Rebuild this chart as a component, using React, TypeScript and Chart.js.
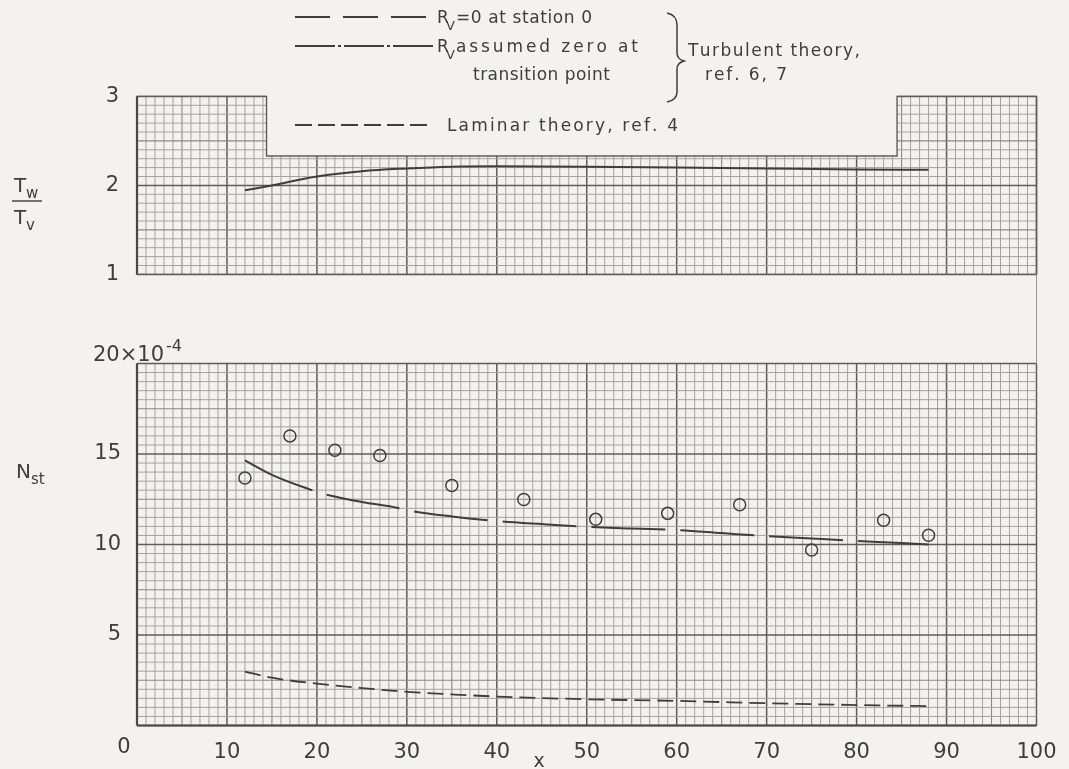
import React, { useEffect, useRef } from 'react';
import { Chart, registerables } from 'chart.js';
Chart.register(...registerables);

// ---- data ----
const xTickValues = [0, 10, 20, 30, 40, 50, 60, 70, 80, 90, 100];
const ratioTickValues = [1, 2, 3];
const stantonTickValues = [0, 5, 10, 15, 20];

// upper panel: Tw/Tv along x
const ratioX = [12, 15, 20, 25, 30, 35, 40, 50, 60, 70, 80, 88];
const ratioY = [1.945, 2.0, 2.1, 2.16, 2.19, 2.21, 2.215, 2.21, 2.2, 2.19, 2.18, 2.175];

// lower panel: measured Stanton numbers (x10^-4)
const expX = [12, 17, 22, 27, 35, 43, 51, 59, 67, 75, 83, 88];
const expY = [13.67, 16.0, 15.21, 14.92, 13.26, 12.49, 11.39, 11.72, 12.2, 9.7, 11.34, 10.51];

// turbulent theory, ref. 6, 7
const turbX = [12, 15, 19, 21, 25, 29, 30, 35, 40, 45, 50, 55, 60, 65, 70, 75, 80, 85, 88];
const turbY = [14.65, 13.85, 13.08, 12.76, 12.35, 12.02, 11.9, 11.55, 11.3, 11.13, 10.98, 10.88, 10.8, 10.63, 10.46, 10.33, 10.2, 10.08, 10.0];

// laminar theory, ref. 4
const lamX = [12, 15, 20, 25, 30, 35, 40, 50, 60, 70, 80, 88];
const lamY = [2.98, 2.64, 2.31, 2.07, 1.86, 1.72, 1.6, 1.45, 1.36, 1.23, 1.13, 1.07];

// graph-paper outline of the upper panel (cut paper)
const paperLeftCut = 14.4;
const paperRightCut = 84.5;
const paperMidTop = 2.33;

const INK = '#3e3e3e';
const BG = '#f4f2ee';
const FONT = '"DejaVu Sans"';
const MINOR = '#a5a29f';
const MEDIUM = '#8a8784';
const MAJOR = '#5e5c5a';

const pts = (xs: number[], ys: number[]) => xs.map((x, i) => ({ x, y: ys[i] }));

function gridStyle(ctx: CanvasRenderingContext2D, i: number) {
  if (i % 10 === 0) { ctx.strokeStyle = MAJOR; ctx.lineWidth = 1.5; }
  else if (i % 5 === 0) { ctx.strokeStyle = MEDIUM; ctx.lineWidth = 1.1; }
  else { ctx.strokeStyle = MINOR; ctx.lineWidth = 1; }
}
function seg(ctx: CanvasRenderingContext2D, x1: number, y1: number, x2: number, y2: number) {
  ctx.beginPath(); ctx.moveTo(x1, y1); ctx.lineTo(x2, y2); ctx.stroke();
}
function text(ctx: CanvasRenderingContext2D, s: string, x: number, y: number, size: number, align: CanvasTextAlign = 'left') {
  ctx.font = `${size}px ${FONT}`;
  ctx.fillStyle = INK;
  ctx.textAlign = align;
  ctx.textBaseline = 'alphabetic';
  ctx.fillText(s, x, y);
}
// lettering spread between two x positions (wide stencil lettering)
function spread(ctx: CanvasRenderingContext2D, s: string, x0: number, x1: number, y: number, size: number) {
  ctx.font = `${size}px ${FONT}`;
  ctx.fillStyle = INK;
  ctx.textAlign = 'left';
  ctx.textBaseline = 'alphabetic';
  const chars = Array.from(s);
  const widths = chars.map((c) => ctx.measureText(c).width);
  const natural = widths.reduce((a, b) => a + b, 0);
  const extra = chars.length > 1 ? Math.max(0, (x1 - x0 - natural) / (chars.length - 1)) : 0;
  let x = x0;
  chars.forEach((c, i) => { ctx.fillText(c, x, y); x += widths[i] + extra; });
}

const topGridPlugin = {
  id: 'topGrid',
  beforeDatasetsDraw(chart: any) {
    const { ctx, scales: { x, y } } = chart;
    const X = (v: number) => x.getPixelForValue(v);
    const Y = (v: number) => y.getPixelForValue(v);
    ctx.save();
    for (let i = 0; i <= 100; i++) {
      const top = (i <= paperLeftCut || i >= paperRightCut) ? 3 : paperMidTop;
      gridStyle(ctx, i);
      seg(ctx, X(i), Y(1), X(i), Y(top));
    }
    for (let j = 0; j <= 20; j++) {
      const v = 1 + j * 0.1;
      gridStyle(ctx, j);
      if (v <= paperMidTop + 1e-6) seg(ctx, X(0), Y(v), X(100), Y(v));
      else {
        seg(ctx, X(0), Y(v), X(paperLeftCut), Y(v));
        seg(ctx, X(paperRightCut), Y(v), X(100), Y(v));
      }
    }
    ctx.strokeStyle = MAJOR; ctx.lineWidth = 1.4;
    ctx.beginPath();
    ctx.moveTo(X(0), Y(1)); ctx.lineTo(X(0), Y(3)); ctx.lineTo(X(paperLeftCut), Y(3));
    ctx.lineTo(X(paperLeftCut), Y(paperMidTop)); ctx.lineTo(X(paperRightCut), Y(paperMidTop));
    ctx.lineTo(X(paperRightCut), Y(3)); ctx.lineTo(X(100), Y(3)); ctx.lineTo(X(100), Y(1));
    ctx.closePath(); ctx.stroke();
    ctx.lineWidth = 2.2; ctx.strokeStyle = '#4a4846';
    seg(ctx, X(0), Y(1), X(0), Y(3));
    ctx.strokeStyle = '#9a9896'; ctx.lineWidth = 1;
    seg(ctx, X(100), Y(1), X(100), chart.height);
    ctx.restore();
  },
  afterDraw(chart: any) {
    const ctx: CanvasRenderingContext2D = chart.ctx;
    ctx.save();
    ctx.strokeStyle = INK; ctx.lineWidth = 1.8;
    // legend line samples
    ctx.setLineDash([35, 13]); seg(ctx, 295, 17, 426, 17);
    ctx.setLineDash([40, 3, 3, 3]); seg(ctx, 295, 46, 433, 46);
    ctx.setLineDash([17, 6]); seg(ctx, 295, 125, 427, 125);
    ctx.setLineDash([]);
    // legend text
    text(ctx, 'R', 437, 22.5, 17); text(ctx, 'V', 446, 29.5, 13);
    spread(ctx, '=0 at station 0', 456, 592, 22.5, 17);
    text(ctx, 'R', 437, 51.5, 17); text(ctx, 'V', 446, 58.5, 13);
    spread(ctx, 'assumed zero at', 456, 638, 51.5, 17);
    spread(ctx, 'transition point', 473, 610, 80, 17);
    spread(ctx, 'Laminar theory, ref. 4', 447, 678, 131, 17);
    spread(ctx, 'Turbulent theory,', 688, 860, 56, 17);
    spread(ctx, 'ref. 6, 7', 705, 787, 80, 17);
    // brace
    ctx.lineWidth = 1.5;
    ctx.beginPath();
    ctx.moveTo(667, 13);
    ctx.quadraticCurveTo(677, 15, 677, 25);
    ctx.lineTo(677, 53);
    ctx.quadraticCurveTo(677, 59, 684, 61);
    ctx.quadraticCurveTo(677, 63, 677, 69);
    ctx.lineTo(677, 92);
    ctx.quadraticCurveTo(677, 100, 667, 102);
    ctx.stroke();
    // y title Tw/Tv
    text(ctx, 'T', 14, 192, 20); text(ctx, 'w', 26, 198, 15);
    ctx.lineWidth = 1.4; seg(ctx, 12, 201, 42, 201);
    text(ctx, 'T', 14, 224, 20); text(ctx, 'v', 26, 230, 15);
    ctx.restore();
  },
};

const bottomGridPlugin = {
  id: 'bottomGrid',
  beforeDatasetsDraw(chart: any) {
    const { ctx, scales: { x, y } } = chart;
    const X = (v: number) => x.getPixelForValue(v);
    const Y = (v: number) => y.getPixelForValue(v);
    ctx.save();
    for (let i = 0; i <= 100; i++) { gridStyle(ctx, i); seg(ctx, X(i), Y(0), X(i), Y(20)); }
    for (let j = 0; j <= 40; j++) { gridStyle(ctx, j); seg(ctx, X(0), Y(j * 0.5), X(100), Y(j * 0.5)); }
    ctx.lineWidth = 2.2; ctx.strokeStyle = '#4a4846';
    seg(ctx, X(0), Y(0), X(0), Y(20));
    seg(ctx, X(0), Y(0), X(100), Y(0));
    ctx.strokeStyle = '#9a9896'; ctx.lineWidth = 1;
    seg(ctx, X(100), 0, X(100), Y(20));
    ctx.restore();
  },
  afterDraw(chart: any) {
    const ctx: CanvasRenderingContext2D = chart.ctx;
    const { scales: { x, y } } = chart;
    ctx.save();
    text(ctx, '20×10', 93, y.getPixelForValue(20) - 3, 21);
    text(ctx, '-4', 166, y.getPixelForValue(20) - 13, 16);
    text(ctx, '0', x.getPixelForValue(0) - 13, 453, 21, 'center');
    text(ctx, 'x', 539, 467, 19, 'center');
    text(ctx, 'N', 16, 178, 20); text(ctx, 'st', 31, 184, 15);
    ctx.restore();
  },
};

export default function App() {
  const topRef = useRef<HTMLCanvasElement>(null);
  const botRef = useRef<HTMLCanvasElement>(null);

  useEffect(() => {
    const tickFont = { family: 'DejaVu Sans', size: 21 };
    const top = new Chart(topRef.current!, {
      type: 'line',
      data: {
        datasets: [{
          data: pts(ratioX, ratioY),
          borderColor: INK, borderWidth: 2, pointRadius: 0, fill: false,
          cubicInterpolationMode: 'monotone',
        }],
      },
      options: {
        animation: false, responsive: false, maintainAspectRatio: false,
        layout: { padding: { left: 0, right: 32.5, top: 96.4, bottom: 25.6 } },
        plugins: { legend: { display: false }, tooltip: { enabled: false } },
        scales: {
          x: { type: 'linear', min: 0, max: 100, display: false },
          y: {
            type: 'linear', min: 1, max: 3,
            grid: { display: false }, border: { display: false },
            afterBuildTicks: (s: any) => { s.ticks = ratioTickValues.map((v) => ({ value: v })); },
            ticks: { font: tickFont, color: INK, padding: 10, callback: (v: any) => String(v) },
            afterFit: (s: any) => { s.width = 137; },
          },
        },
      },
      plugins: [topGridPlugin],
    } as any);

    const bot = new Chart(botRef.current!, {
      type: 'line',
      data: {
        datasets: [
          {
            data: pts(turbX, turbY), borderColor: INK, borderWidth: 2, pointRadius: 0,
            borderDash: [74, 15], cubicInterpolationMode: 'monotone', fill: false,
          },
          {
            data: pts(lamX, lamY), borderColor: INK, borderWidth: 1.8, pointRadius: 0,
            borderDash: [16, 7], cubicInterpolationMode: 'monotone', fill: false,
          },
          {
            data: pts(expX, expY), showLine: false, pointRadius: 6, pointBorderWidth: 1.5,
            pointBorderColor: INK, pointBackgroundColor: 'rgba(0,0,0,0)', borderColor: INK,
          },
        ],
      },
      options: {
        animation: false, responsive: false, maintainAspectRatio: false,
        layout: { padding: { left: 0, right: 32.5, top: 63.5, bottom: 0 } },
        plugins: { legend: { display: false }, tooltip: { enabled: false } },
        scales: {
          x: {
            type: 'linear', min: 0, max: 100,
            grid: { display: false }, border: { display: false },
            afterBuildTicks: (s: any) => { s.ticks = xTickValues.map((v) => ({ value: v })); },
            ticks: { font: tickFont, color: INK, padding: 6, maxRotation: 0, autoSkip: false,
              callback: (v: any) => (v === 0 ? '' : String(v)) },
            afterFit: (s: any) => { s.height = 43.5; },
          },
          y: {
            type: 'linear', min: 0, max: 20,
            grid: { display: false }, border: { display: false },
            afterBuildTicks: (s: any) => { s.ticks = stantonTickValues.map((v) => ({ value: v })); },
            ticks: { font: tickFont, color: INK, padding: 8,
              callback: (v: any) => (v === 0 || v === 20 ? '' : String(v)) },
            afterFit: (s: any) => { s.width = 137; },
          },
        },
      },
      plugins: [bottomGridPlugin],
    } as any);

    return () => { top.destroy(); bot.destroy(); };
  }, []);

  return (
    <div style={{ position: 'fixed', left: 0, top: 0, width: 1069, height: 769, background: BG, overflow: 'hidden' }}>
      <canvas ref={topRef} width={1069} height={300}
        style={{ position: 'absolute', left: 0, top: 0, width: 1069, height: 300 }} />
      <canvas ref={botRef} width={1069} height={469}
        style={{ position: 'absolute', left: 0, top: 300, width: 1069, height: 469 }} />
    </div>
  );
}
